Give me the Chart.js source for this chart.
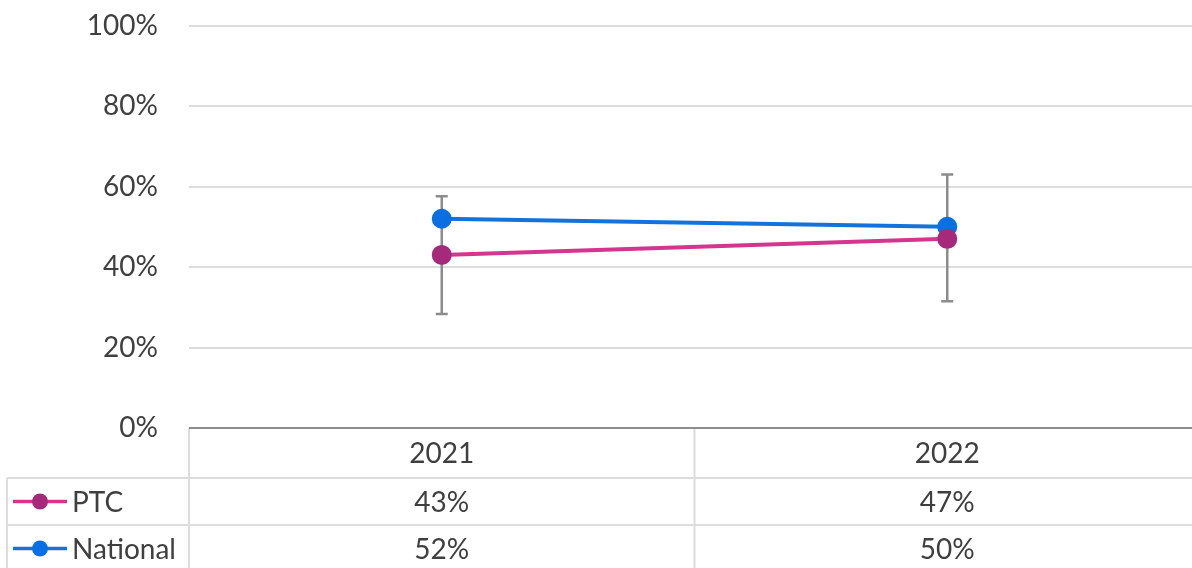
<!DOCTYPE html>
<html>
<head>
<meta charset="utf-8">
<script src="https://cdn.jsdelivr.net/npm/chart.js@4/dist/chart.umd.min.js"></script>
<style>
  html, body { margin: 0; padding: 0; background: #fff; overflow: hidden; }
  #trend { position: absolute; left: 0; top: 0; }
</style>
</head>
<body>
<canvas id="trend" width="1212" height="572"></canvas>
<script>
// survey years and results (percent)
var years = ['2021', '2022'];
var ptc = [43, 47];
var national = [52, 50];
// confidence interval for PTC
var ptcLow = [28.3, 31.5];
var ptcHigh = [57.6, 63.0];

var FONT = 'Lato, "Open Sans", sans-serif';
var TEXT = '#3f3f3f';
var GRID = '#dcdcdc';

var series = [
    { label: 'PTC', data: ptc, line: '#d4358f', dot: '#a62a7b' },
    { label: 'National', data: national, line: '#1473db', dot: '#0a6fe0' }
];

// whiskers for the PTC series, drawn under the points
var errorBars = {
    id: 'errorBars',
    beforeDatasetsDraw: function(chart) {
        var ctx = chart.ctx, x = chart.scales.x, y = chart.scales.y;
        ctx.save();
        ctx.strokeStyle = '#8c8c8c';
        ctx.lineWidth = 2.5;
        for (var i = 0; i < years.length; i++) {
            var px = x.getPixelForValue(i);
            var top = y.getPixelForValue(ptcHigh[i]);
            var bot = y.getPixelForValue(ptcLow[i]);
            ctx.beginPath();
            ctx.moveTo(px, top); ctx.lineTo(px, bot);
            ctx.moveTo(px - 6, top); ctx.lineTo(px + 6, top);
            ctx.moveTo(px - 6, bot); ctx.lineTo(px + 6, bot);
            ctx.stroke();
        }
        ctx.restore();
    }
};

// data table under the plot with legend keys
var dataTable = {
    id: 'dataTable',
    afterDraw: function(chart) {
        var ctx = chart.ctx, x = chart.scales.x, area = chart.chartArea;
        var top = area.bottom;
        var rows = [top, top + 50, top + 97, top + 144];
        var keyLeft = 7;
        var right = chart.width;
        ctx.save();
        ctx.strokeStyle = GRID;
        ctx.lineWidth = 2;
        ctx.beginPath();
        // horizontal rules
        ctx.moveTo(keyLeft, rows[1]); ctx.lineTo(right, rows[1]);
        ctx.moveTo(keyLeft, rows[2]); ctx.lineTo(right, rows[2]);
        // vertical rules
        ctx.moveTo(keyLeft, rows[1]); ctx.lineTo(keyLeft, rows[3]);
        ctx.moveTo(area.left, top); ctx.lineTo(area.left, rows[3]);
        for (var i = 0; i < years.length - 1; i++) {
            var mid = (x.getPixelForValue(i) + x.getPixelForValue(i + 1)) / 2;
            ctx.moveTo(mid, top); ctx.lineTo(mid, rows[3]);
        }
        ctx.stroke();

        // axis line along 0%
        ctx.strokeStyle = '#8c8c8c';
        ctx.lineWidth = 2;
        ctx.beginPath();
        ctx.moveTo(area.left, top); ctx.lineTo(right, top);
        ctx.stroke();

        ctx.font = '28px ' + FONT;
        ctx.fillStyle = TEXT;
        ctx.textAlign = 'center';
        ctx.textBaseline = 'middle';
        years.forEach(function(yr, i) {
            ctx.fillText(yr, x.getPixelForValue(i), (rows[0] + rows[1]) / 2 + 1);
        });
        series.forEach(function(s, r) {
            var cy = (rows[r + 1] + rows[r + 2]) / 2 + 1;
            s.data.forEach(function(v, i) {
                ctx.fillText(v + '%', x.getPixelForValue(i), cy);
            });
            // legend key
            ctx.strokeStyle = s.line;
            ctx.lineWidth = 3.5;
            ctx.beginPath();
            ctx.moveTo(13, cy - 1); ctx.lineTo(67, cy - 1);
            ctx.stroke();
            ctx.fillStyle = s.dot;
            ctx.beginPath();
            ctx.arc(40, cy - 1, 8, 0, Math.PI * 2);
            ctx.fill();
            ctx.fillStyle = TEXT;
            ctx.textAlign = 'left';
            ctx.fillText(s.label, 72, cy);
            ctx.textAlign = 'center';
        });
        ctx.restore();
    }
};

var ctx = document.getElementById('trend').getContext('2d');
var trendChart = new Chart(ctx, {
    type: 'line',
    data: {
        labels: years,
        datasets: series.map(function(s) {
            return {
                label: s.label,
                data: s.data,
                borderColor: s.line,
                backgroundColor: s.dot,
                pointBackgroundColor: s.dot,
                pointBorderColor: s.dot,
                pointRadius: 8,
                pointHoverRadius: 8,
                borderWidth: 4,
                tension: 0,
                fill: false
            };
        })
    },
    plugins: [errorBars, dataTable],
    options: {
        responsive: false,
        animation: false,
        layout: { padding: { top: 25.5, bottom: 144, left: 0, right: 11 } },
        plugins: {
            legend: { display: false },
            tooltip: { enabled: false }
        },
        scales: {
            x: {
                offset: true,
                grid: { display: false, drawTicks: false },
                border: { display: false },
                ticks: { display: false }
            },
            y: {
                min: 0,
                max: 100,
                afterFit: function(scale) {
                    scale.width = 189;
                    // the tick padding is horizontal only here
                    scale.paddingTop = 0;
                    scale.paddingBottom = 0;
                },
                grid: { color: GRID, lineWidth: 2, drawTicks: false },
                border: { display: false },
                ticks: {
                    stepSize: 20,
                    padding: 31,
                    color: TEXT,
                    font: { family: FONT, size: 28 },
                    callback: function(v) { return v + '%'; }
                }
            }
        }
    }
});
</script>
</body>
</html>
